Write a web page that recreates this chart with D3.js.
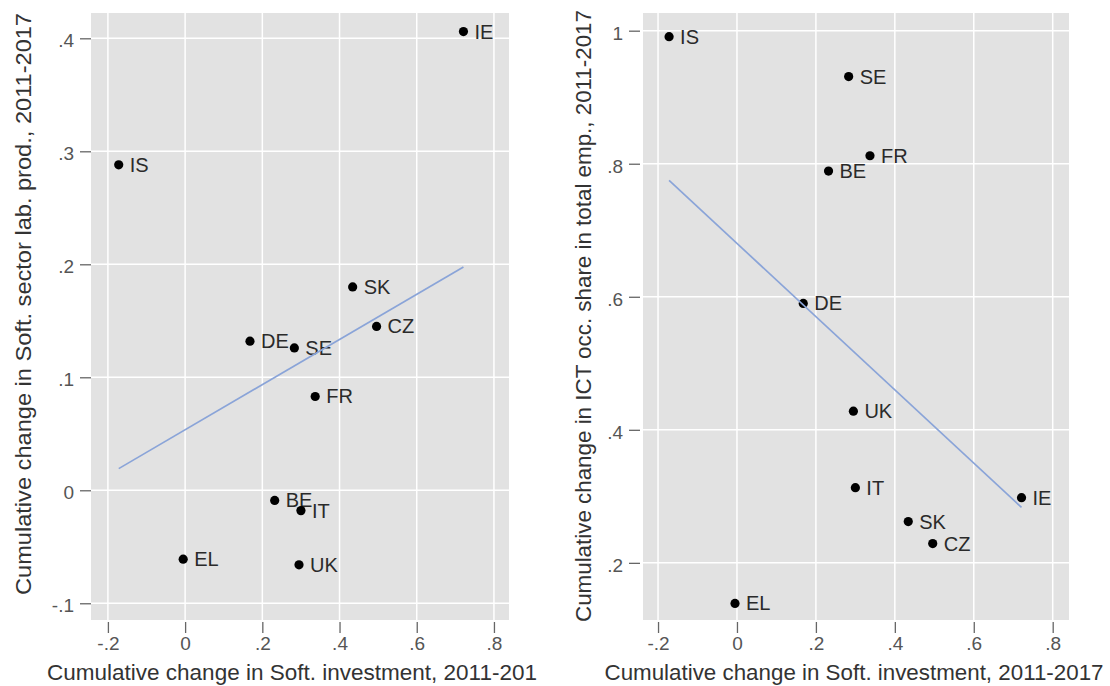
<!DOCTYPE html>
<html><head><meta charset="utf-8">
<script src="https://cdn.jsdelivr.net/npm/d3@7"></script>
<style>
body{margin:0;background:#fff;}
svg{display:block;font-family:"Liberation Sans",Arial,sans-serif;}
</style></head>
<body>
<svg id="chart" width="1110" height="686"></svg>
<script>
// ---- data ----
const countries = ["IS","EL","DE","BE","SE","UK","IT","FR","SK","CZ","IE"];
const softInvestment = [-0.172,-0.005,0.168,0.232,0.283,0.295,0.300,0.337,0.434,0.496,0.721];
const softLabProd = [0.288,-0.061,0.132,-0.009,0.126,-0.066,-0.018,0.083,0.180,0.145,0.406];
const ictShare = [0.991,0.139,0.590,0.789,0.931,0.428,0.313,0.812,0.262,0.229,0.298];
const xTicks = [-0.2,0,0.2,0.4,0.6,0.8];
const xTickLabels = ["-.2","0",".2",".4",".6",".8"];
const yTicksLeft = [-0.1,0,0.1,0.2,0.3,0.4];
const yTickLabelsLeft = ["-.1","0",".1",".2",".3",".4"];
const yTicksRight = [0.2,0.4,0.6,0.8,1];
const yTickLabelsRight = [".2",".4",".6",".8","1"];
const xTitleLeft = "Cumulative change in Soft. investment, 2011-201";
const xTitleRight = "Cumulative change in Soft. investment, 2011-2017";
const yTitleLeft = "Cumulative change in Soft. sector lab. prod., 2011-2017";
const yTitleRight = "Cumulative change in ICT occ. share in total emp., 2011-2017";

const svg = d3.select("#chart");

function ols(xs, ys){
  const n = xs.length, mx = d3.mean(xs), my = d3.mean(ys);
  let sxy=0, sxx=0;
  for(let i=0;i<n;i++){ sxy += (xs[i]-mx)*(ys[i]-my); sxx += (xs[i]-mx)**2; }
  const b = sxy/sxx; return {a: my-b*mx, b};
}

function panel(cfg){
  const g = svg.append("g");
  const x = d3.scaleLinear().domain(cfg.xDomain).range([cfg.left, cfg.right]);
  const y = d3.scaleLinear().domain(cfg.yDomain).range([cfg.bottom, cfg.top]);
  g.append("rect").attr("x",cfg.left).attr("y",cfg.top)
    .attr("width",cfg.right-cfg.left).attr("height",cfg.bottom-cfg.top).attr("fill","#e2e2e2");
  // grid
  g.selectAll(".vg").data(xTicks).enter().append("line")
    .attr("x1",d=>x(d)).attr("x2",d=>x(d)).attr("y1",cfg.top).attr("y2",cfg.bottom)
    .attr("stroke","#fff").attr("stroke-width",1.5);
  g.selectAll(".hg").data(cfg.yTicks).enter().append("line")
    .attr("y1",d=>y(d)).attr("y2",d=>y(d)).attr("x1",cfg.left).attr("x2",cfg.right)
    .attr("stroke","#fff").attr("stroke-width",1.5);
  // x axis
  const xa = g.append("g").attr("transform",`translate(0,${cfg.bottom+2})`)
    .call(d3.axisBottom(x).tickValues(xTicks).tickSize(11).tickPadding(4)
      .tickFormat((d,i)=>xTickLabels[i]));
  xa.select(".domain").remove();
  xa.selectAll("line").attr("stroke","#666").attr("stroke-width",1.3);
  xa.selectAll("text").attr("fill","#555").attr("font-size",19).attr("font-family","Liberation Sans, Arial, sans-serif");
  // y axis
  const ya = g.append("g").attr("transform",`translate(${cfg.left-cfg.ygap},0)`)
    .call(d3.axisLeft(y).tickValues(cfg.yTicks).tickSize(11).tickPadding(6)
      .tickFormat((d,i)=>cfg.yTickLabels[i]));
  ya.select(".domain").remove();
  ya.selectAll("line").attr("stroke","#666").attr("stroke-width",1.3);
  ya.selectAll("text").attr("fill","#555").attr("font-size",19).attr("dy","0.45em")
    .attr("font-family","Liberation Sans, Arial, sans-serif");
  // points + labels
  const pts = g.append("g");
  countries.forEach((c,i)=>{
    const px = x(softInvestment[i]), py = y(cfg.ys[i]);
    pts.append("circle").attr("cx",px).attr("cy",py).attr("r",4.6).attr("fill","#000");
    pts.append("text").attr("x",px+11).attr("y",py+7).attr("font-size",20)
      .attr("fill","#2a2a2a").text(c);
  });
  // fit line
  const f = ols(softInvestment, cfg.ys);
  const xe = d3.extent(softInvestment);
  g.append("line").attr("x1",x(xe[0])).attr("x2",x(xe[1]))
    .attr("y1",y(f.a+f.b*xe[0])).attr("y2",y(f.a+f.b*xe[1]))
    .attr("stroke","#8aa4d8").attr("stroke-width",1.7);
  // titles
  g.append("text").attr("x",cfg.xTitleX).attr("y",680).attr("text-anchor",cfg.xTitleAnchor)
    .attr("font-size",22.5).attr("fill","#333")
    .attr("textLength",cfg.xTitleLen).attr("lengthAdjust","spacingAndGlyphs").text(cfg.xTitle);
  g.append("text").attr("transform",`translate(${cfg.yTitleX},${cfg.yTitleY}) rotate(-90)`)
    .attr("text-anchor","middle").attr("font-size",22.5).attr("fill","#333")
    .attr("textLength",cfg.yTitleLen).attr("lengthAdjust","spacingAndGlyphs").text(cfg.yTitle);
}

panel({left:91,right:509,top:13,bottom:620,
  xDomain:[-0.2438,0.839], yDomain:[-0.1148,0.4224],
  yTicks:yTicksLeft, yTickLabels:yTickLabelsLeft, ys:softLabProd, ygap:0,
  xTitle:xTitleLeft, xTitleX:47, xTitleAnchor:"start", xTitleLen:490,
  yTitle:yTitleLeft, yTitleX:31, yTitleY:304, yTitleLen:582});

panel({left:643,right:1069,top:13,bottom:620,
  xDomain:[-0.2381,0.8413], yDomain:[0.1141,1.0266],
  yTicks:yTicksRight, yTickLabels:yTickLabelsRight, ys:ictShare, ygap:3,
  xTitle:xTitleRight, xTitleX:854, xTitleAnchor:"middle", xTitleLen:499,
  yTitle:yTitleRight, yTitleX:591, yTitleY:316, yTitleLen:612});
</script>
</body></html>
